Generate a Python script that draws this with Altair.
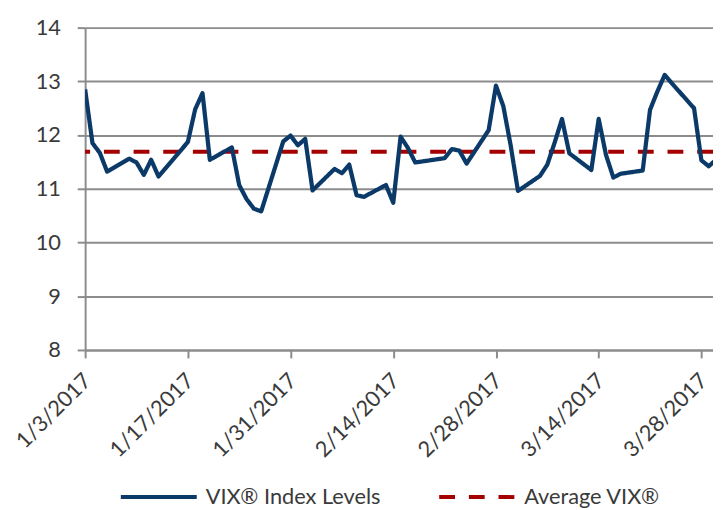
import altair as alt
import pandas as pd

dates = [
    "2017-01-03", "2017-01-04", "2017-01-05", "2017-01-06",
    "2017-01-09", "2017-01-10", "2017-01-11", "2017-01-12", "2017-01-13",
    "2017-01-17", "2017-01-18", "2017-01-19", "2017-01-20",
    "2017-01-23", "2017-01-24", "2017-01-25", "2017-01-26", "2017-01-27",
    "2017-01-30", "2017-01-31", "2017-02-01", "2017-02-02", "2017-02-03",
    "2017-02-06", "2017-02-07", "2017-02-08", "2017-02-09", "2017-02-10",
    "2017-02-13", "2017-02-14", "2017-02-15", "2017-02-16", "2017-02-17",
    "2017-02-21", "2017-02-22", "2017-02-23", "2017-02-24",
    "2017-02-27", "2017-02-28", "2017-03-01", "2017-03-02", "2017-03-03",
    "2017-03-06", "2017-03-07", "2017-03-08", "2017-03-09", "2017-03-10",
    "2017-03-13", "2017-03-14", "2017-03-15", "2017-03-16", "2017-03-17",
    "2017-03-20", "2017-03-21", "2017-03-22", "2017-03-23", "2017-03-24",
    "2017-03-27", "2017-03-28", "2017-03-29", "2017-03-30", "2017-03-31",
]
vix = [
    12.85, 11.85, 11.67, 11.32,
    11.56, 11.49, 11.26, 11.54, 11.23,
    11.87, 12.48, 12.78, 11.54,
    11.77, 11.07, 10.81, 10.63, 10.58,
    11.88, 11.99, 11.81, 11.93, 10.97,
    11.37, 11.29, 11.45, 10.88, 10.85,
    11.07, 10.74, 11.97, 11.76, 11.49,
    11.57, 11.74, 11.71, 11.47,
    12.09, 12.92, 12.54, 11.81, 10.96,
    11.24, 11.45, 11.86, 12.30, 11.66,
    11.35, 12.30, 11.63, 11.21, 11.28,
    11.34, 12.47, 12.81, 13.12, 12.96,
    12.50, 11.53, 11.42, 11.54, 12.37,
]
average_vix = [11.69]
series_names = ["VIX\u00ae Index Levels", "Average VIX\u00ae"]
y_ticks = [8, 9, 10, 11, 12, 13, 14]
x_tick_days = [(1, 3), (1, 17), (1, 31), (2, 14), (2, 28), (3, 14), (3, 28)]

line_df = pd.DataFrame({"date": dates, "value": vix, "series": series_names[0]})
avg_df = pd.DataFrame({"avg": average_vix, "series": [series_names[1]]})

FONT = "Lato"
GRAY = "#8c8c8c"
TEXT = "#3a3a3a"
NAVY = "#0b3a68"
RED = "#a50000"

x_scale = alt.Scale(
    type="utc",
    domain=[alt.DateTime(year=2017, month=1, date=3, utc=True),
            alt.DateTime(year=2017, month=3, date=29, hours=14, utc=True)],
    nice=False,
)
y_scale = alt.Scale(domain=[8, 14], nice=False, zero=False)

legend = alt.Legend(
    title=None, orient="none", direction="horizontal",
    legendX=34, legendY=434,
    symbolType="stroke", symbolSize=5900, symbolStrokeWidth=4,
    labelFont=FONT, labelFontSize=22, labelColor=TEXT, labelLimit=400,
    labelOffset=7, columnPadding=51,
)
color = alt.Color(
    "series:N",
    scale=alt.Scale(domain=series_names, range=[NAVY, RED]),
    legend=legend,
)
dash = alt.StrokeDash(
    "series:N",
    scale=alt.Scale(domain=series_names, range=[[1, 0], [16, 14]]),
    legend=legend,
)

x_axis = alt.Axis(
    values=[alt.DateTime(year=2017, month=m, date=d, utc=True) for m, d in x_tick_days],
    labelExpr="utcFormat(datum.value, '%-m/%-d/%Y')",
    labelAngle=-45, labelAlign="right", labelBaseline="middle",
    labelFlush=False, labelOverlap=False,
    labelPadding=19, labelOffset=2,
    labelFont=FONT, labelFontSize=22, labelColor=TEXT,
    grid=False, domainColor=GRAY, domainWidth=2,
    tickColor=GRAY, tickWidth=2, tickSize=8, title=None,
)
y_axis = alt.Axis(
    values=y_ticks, format="d",
    labelFont=FONT, labelFontSize=22, labelColor=TEXT, labelPadding=17,
    grid=True, gridColor=GRAY, gridWidth=2,
    domainColor=GRAY, domainWidth=2,
    tickColor=GRAY, tickWidth=2, tickSize=8, title=None,
)

vix_line = alt.Chart(line_df).mark_line(
    strokeWidth=4.3, clip=True, strokeJoin="round"
).encode(
    x=alt.X("date:T", scale=x_scale, axis=x_axis),
    y=alt.Y("value:Q", scale=y_scale, axis=y_axis),
    color=color,
    strokeDash=dash,
)

avg_rule = alt.Chart(avg_df).mark_rule(strokeWidth=4, strokeCap="butt").encode(
    y=alt.Y("avg:Q", scale=y_scale),
    color=color,
    strokeDash=dash,
)

chart = alt.layer(avg_rule, vix_line).properties(
    width=635, height=326,
    autosize=alt.AutoSizeParams(type="none"),
    padding={"left": 78, "top": 17, "right": 0, "bottom": 159},
).configure_view(stroke=None)

chart.save("out.html", embed_options={"renderer": "svg", "actions": False})
